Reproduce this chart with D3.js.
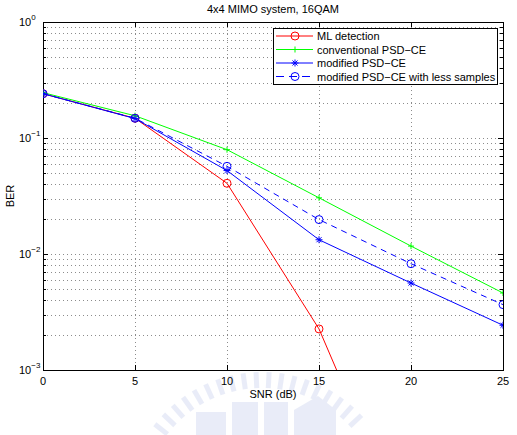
<!DOCTYPE html>
<html>
<head>
<meta charset="utf-8">
<script src="https://cdn.jsdelivr.net/npm/d3@7"></script>
<style>
  html, body { margin: 0; padding: 0; background: #fff; }
  svg { display: block; font-family: "Liberation Sans", Arial, Helvetica, sans-serif; }
</style>
</head>
<body>
<svg id="chart" width="517" height="435"></svg>
<script>
// ---- data ----
const snr = [0, 5, 10, 15, 20, 25];
const berML = [0.241, 0.148, 0.0407, 0.00226, 0.000032, null];
const berConv = [0.246, 0.1555, 0.0793, 0.0305, 0.0117, 0.00461];
const berMod = [0.241, 0.147, 0.0524, 0.01327, 0.00562, 0.00243];
const berModLess = [0.241, 0.148, 0.057, 0.0198, 0.00825, 0.00366];
const seriesNames = ["ML detection", "conventional PSD\u2212CE", "modified PSD\u2212CE", "modified PSD\u2212CE with less samples"];
const xTicks = [0, 5, 10, 15, 20, 25];
const yTickExps = [0, -1, -2, -3];
const title = "4x4 MIMO system, 16QAM";
const xLabel = "SNR (dB)";
const yLabel = "BER";

// ---- layout ----
const L = 43, R = 503, T = 22, B = 370;
const svg = d3.select("#chart");
const x = d3.scaleLinear().domain([0, 25]).range([L, R]);
const y = d3.scaleLog().domain([1e-3, 1]).range([B, T]);

// faint watermark (background logo)
const wm = svg.append("g").attr("fill", "#c9d2ee").attr("opacity", 0.4);
const wcx = 262, wcy = 508, wr = 128;
for (let a = -52; a <= 52; a += 5.5) {
  const rad = (a - 90) * Math.PI / 180;
  const px = wcx + wr * Math.cos(rad), py = wcy + wr * Math.sin(rad);
  wm.append("rect").attr("x", -2.5).attr("y", -8).attr("width", 5).attr("height", 16)
    .attr("transform", `translate(${px},${py}) rotate(${a})`);
}
wm.append("rect").attr("x", 196).attr("y", 412).attr("width", 30).attr("height", 23);
wm.append("rect").attr("x", 232).attr("y", 402).attr("width", 26).attr("height", 33);
wm.append("rect").attr("x", 264).attr("y", 402).attr("width", 24).attr("height", 33);
wm.append("path").attr("d", "M294,435 L294,410 L318,396 L336,410 L336,435 Z");

svg.append("defs").append("clipPath").attr("id", "clip")
  .append("rect").attr("x", L).attr("y", T).attr("width", R - L).attr("height", B - T);

// grid
const minorVals = [];
for (let e = -3; e < 0; e++) for (let m = 1; m <= 9; m++) minorVals.push(m * Math.pow(10, e));
const grid = svg.append("g").attr("stroke", "#8c8c8c").attr("stroke-width", 1).attr("stroke-dasharray", "1,3");
minorVals.filter(v => v > 1e-3).forEach(v => {
  const yy = Math.round(y(v)) + 0.5;
  grid.append("line").attr("x1", L).attr("x2", R).attr("y1", yy).attr("y2", yy);
});
xTicks.slice(1, -1).forEach(t => {
  const xx = Math.round(x(t)) + 0.5;
  grid.append("line").attr("x1", xx).attr("x2", xx).attr("y1", T).attr("y2", B);
});

// ticks (inside, all four sides)
const tk = svg.append("g").attr("stroke", "#000").attr("stroke-width", 1);
xTicks.forEach(t => {
  const xx = Math.round(x(t)) + 0.5;
  tk.append("line").attr("x1", xx).attr("x2", xx).attr("y1", B).attr("y2", B - 5);
  tk.append("line").attr("x1", xx).attr("x2", xx).attr("y1", T).attr("y2", T + 5);
});
minorVals.concat([1]).forEach(v => {
  const yy = Math.round(y(v)) + 0.5;
  const major = Math.abs(Math.log10(v) - Math.round(Math.log10(v))) < 1e-9;
  const len = major ? 5 : 3;
  tk.append("line").attr("x1", L).attr("x2", L + len).attr("y1", yy).attr("y2", yy);
  tk.append("line").attr("x1", R).attr("x2", R - len).attr("y1", yy).attr("y2", yy);
});

// axes box
svg.append("rect").attr("x", L + 0.5).attr("y", T + 0.5).attr("width", R - L).attr("height", B - T)
  .attr("fill", "none").attr("stroke", "#000").attr("stroke-width", 1);

// x tick labels
svg.append("g").selectAll("text").data(xTicks).join("text")
  .attr("x", d => x(d)).attr("y", B + 15)
  .attr("text-anchor", "middle").attr("font-size", 11).attr("fill", "#000")
  .text(d => d);

// y tick labels (10^e)
yTickExps.forEach(e => {
  const t = svg.append("text").attr("x", 19).attr("y", y(Math.pow(10, e)) + 4)
    .attr("font-size", 11).attr("fill", "#000");
  t.append("tspan").text("10");
  t.append("tspan").attr("font-size", 8).attr("dy", -6).text(e === 0 ? "0" : "\u2212" + Math.abs(e));
});

// titles
svg.append("text").attr("x", (L + R) / 2).attr("y", 12.5).attr("text-anchor", "middle")
  .attr("font-size", 11).attr("fill", "#000").text(title);
svg.append("text").attr("x", (L + R) / 2).attr("y", 398).attr("text-anchor", "middle")
  .attr("font-size", 11).attr("fill", "#000").text(xLabel);
svg.append("text").attr("transform", `translate(14,${(T + B) / 2}) rotate(-90)`)
  .attr("text-anchor", "middle").attr("font-size", 11).attr("fill", "#000").text(yLabel);

// series
const series = [
  { name: seriesNames[0], vals: berML, color: "#ff0000", dash: null, marker: "circle" },
  { name: seriesNames[1], vals: berConv, color: "#00ff00", dash: null, marker: "plus" },
  { name: seriesNames[2], vals: berMod, color: "#0000ff", dash: null, marker: "star" },
  { name: seriesNames[3], vals: berModLess, color: "#0000ff", dash: "6,5", marker: "circle" }
];

function drawMarker(g, type, cx, cy, color) {
  if (type === "circle") {
    g.append("circle").attr("cx", cx).attr("cy", cy).attr("r", 4)
      .attr("fill", "none").attr("stroke", color).attr("stroke-width", 1);
  } else if (type === "plus") {
    g.append("path").attr("d", `M${cx - 3},${cy}H${cx + 3}M${cx},${cy - 3}V${cy + 3}`)
      .attr("stroke", color).attr("stroke-width", 1).attr("fill", "none");
  } else if (type === "star") {
    const r = 3.5, d = r * 0.72;
    g.append("path").attr("d",
      `M${cx - r},${cy}H${cx + r}M${cx},${cy - r}V${cy + r}M${cx - d},${cy - d}L${cx + d},${cy + d}M${cx - d},${cy + d}L${cx + d},${cy - d}`)
      .attr("stroke", color).attr("stroke-width", 1).attr("fill", "none");
  }
}

const plotG = svg.append("g").attr("clip-path", "url(#clip)");
const line = d3.line().defined(d => d[1] != null).x(d => x(d[0])).y(d => y(d[1]));
series.forEach(s => {
  const pts = snr.map((v, i) => [v, s.vals[i]]);
  plotG.append("path").attr("d", line(pts)).attr("fill", "none")
    .attr("stroke", s.color).attr("stroke-width", 1)
    .attr("stroke-dasharray", s.dash);
  const mg = plotG.append("g");
  pts.filter(p => p[1] != null).forEach(p => drawMarker(mg, s.marker, x(p[0]), y(p[1]), s.color));
});

// legend
const lgX = 273, lgY = 28, lgW = 224, lgH = 56, rowH = 13.5;
svg.append("rect").attr("x", lgX + 0.5).attr("y", lgY + 0.5).attr("width", lgW).attr("height", lgH)
  .attr("fill", "#fff").attr("stroke", "#000").attr("stroke-width", 1);
series.forEach((s, i) => {
  const yy = lgY + 8 + i * rowH;
  svg.append("line").attr("x1", lgX + 3).attr("x2", lgX + 40).attr("y1", yy).attr("y2", yy)
    .attr("stroke", s.color).attr("stroke-width", 1).attr("stroke-dasharray", s.dash ? "8,5" : null);
  drawMarker(svg, s.marker, lgX + 22, yy, s.color);
  svg.append("text").attr("x", lgX + 44).attr("y", yy + 4).attr("font-size", 11).attr("fill", "#000").text(s.name);
});
</script>
</body>
</html>
